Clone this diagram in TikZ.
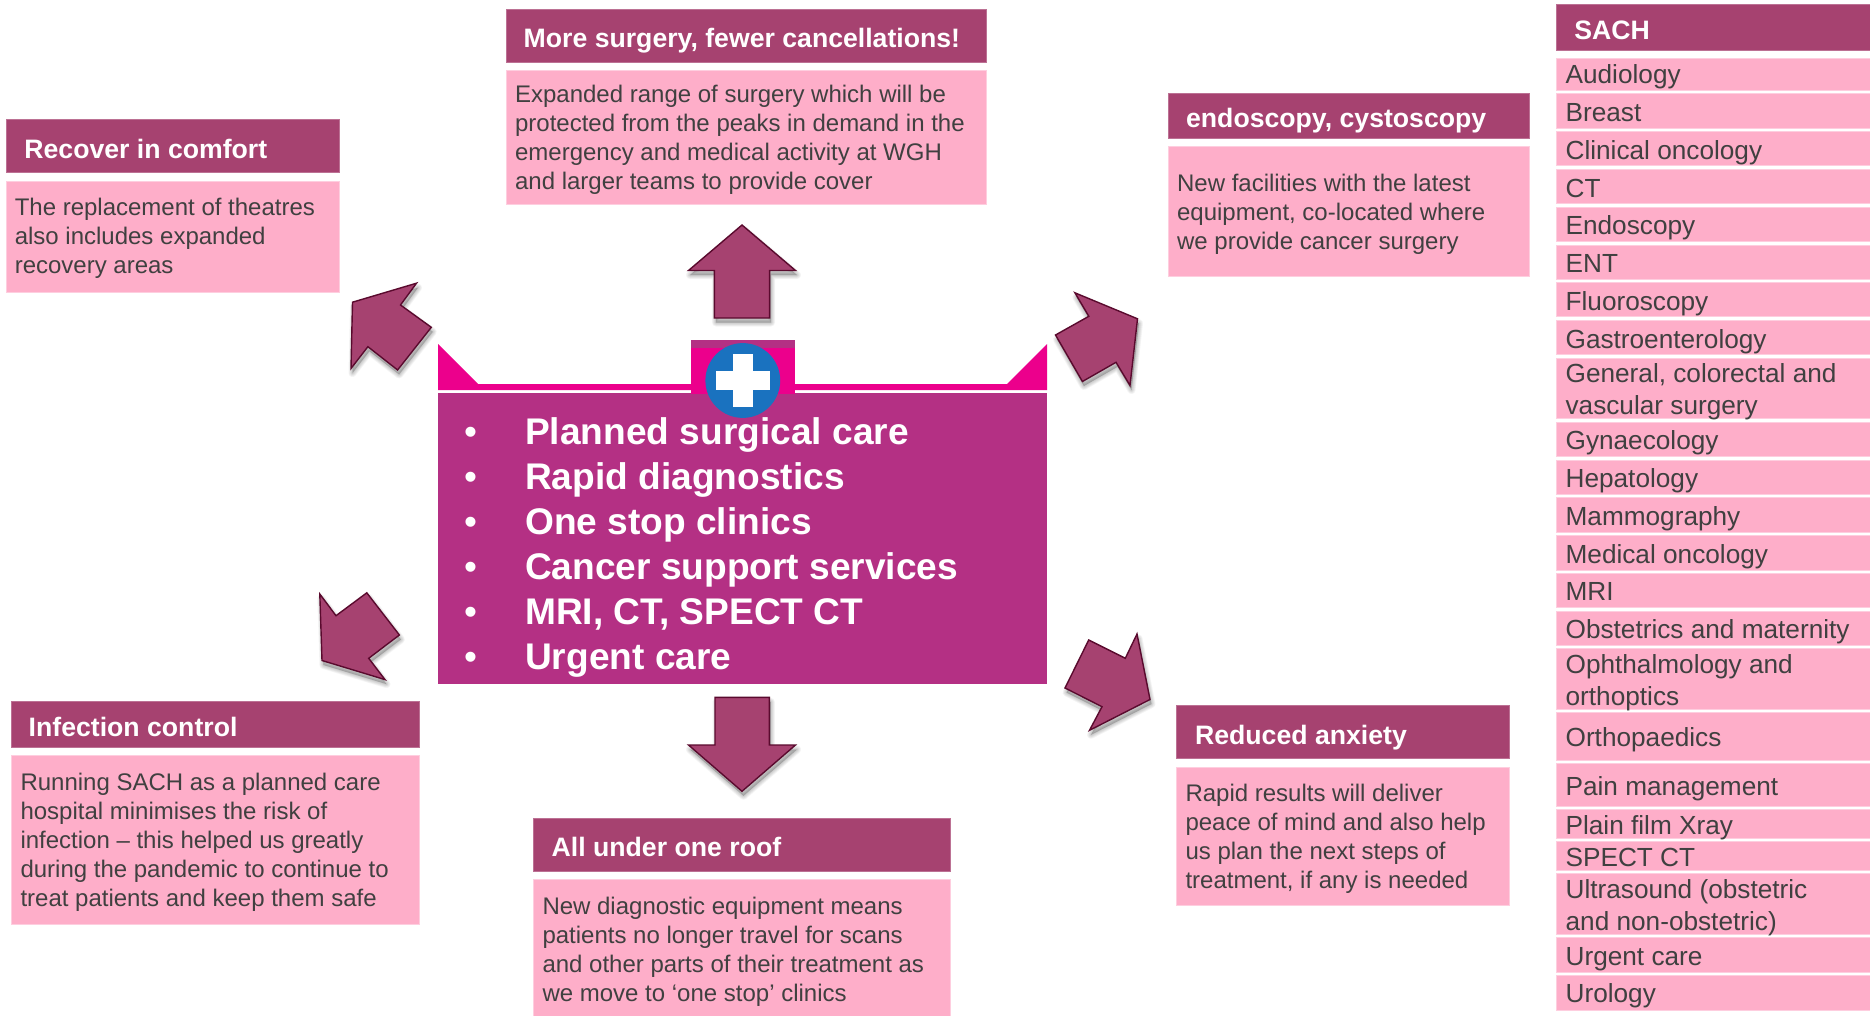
\documentclass[tikz,border=0pt]{standalone}
\usepackage{fontspec}
\setmainfont{Liberation Sans}
\definecolor{hdrc}{HTML}{A64270}
\definecolor{bodyc}{HTML}{FEAEC9}
\definecolor{mainc}{HTML}{B43084}
\definecolor{stripc}{HTML}{EC008C}
\definecolor{bluec}{HTML}{1A72BF}
\definecolor{edgec}{HTML}{5A0A2E}
\definecolor{inkc}{HTML}{404040}
\tikzset{
  hdrbox/.style={fill=hdrc,draw=hdrc!75!white,line width=0.7pt},
  bodybox/.style={fill=bodyc,draw=bodyc!60!white,line width=0.7pt},
  titletext/.style={anchor=base west,inner sep=0pt,xshift=-0.8pt,yshift=-1.2pt,text=white,font=\fontsize{26.65}{30}\selectfont\bfseries},
  bodytext/.style={anchor=north west,inner sep=0pt,xshift=-0.4pt,align=left,text=inkc,font=\fontsize{24}{29}\selectfont},
  coltext/.style={anchor=north west,inner sep=0pt,xshift=-0.6pt,yshift=-1pt,align=left,text=inkc,font=\fontsize{26.2}{32}\selectfont},
  listtext/.style={anchor=north west,inner sep=0pt,yshift=1.4pt,align=left,text=white,font=\fontsize{37.1}{45}\selectfont\bfseries},
  blockarrow/.style={fill=hdrc,draw=edgec,line width=1.4pt,line join=miter},
}
% first-line strut: fixes the height of a node's first line
\newcommand\fl{\rule{0pt}{24pt}}
\newcommand\lb{\makebox[61pt][l]{\normalfont\fontsize{37}{45}\selectfont •}}
\newcommand\rowitem[5]{%
  \path[bodybox] (1556,#2) rectangle (1870,#3);
  \node[coltext] (#1) at (1566,#4-24) {\fl #5};
}
\newcommand\softarrow[1]{%
  \begin{scope}[shift={(1.5,4.5)}]
    \foreach \w in {8,6.5,5,3.5,2,0.5}{
      \draw[black,opacity=0.04,line width=\w pt,line join=round] #1 -- cycle;
    }
    \fill[black,opacity=0.2] #1 -- cycle;
  \end{scope}
  \draw[blockarrow] #1 -- cycle;
}
\begin{document}
\begin{tikzpicture}[x=1pt,y=-1pt]
\path[use as bounding box,fill=white] (0,0) rectangle (1870,1016);

% Recover in comfort
\path[hdrbox] (6,119.5) rectangle (339.7,172.7);
\node[titletext] (t1) at (25,157.3) {Recover in comfort};
\path[bodybox] (6,181) rectangle (339.7,292);
\node[bodytext] (b1) at (15,215-24) {\fl The replacement of theatres\\also includes expanded\\recovery areas};

% More surgery
\path[hdrbox] (506,9) rectangle (986,62);
\node[titletext] (t2) at (524.3,46.7) {More surgery, fewer cancellations!};
\path[bodybox] (506,70) rectangle (986,204);
\node[bodytext] (b2) at (515.3,102.7-24) {\fl Expanded range of surgery which will be\\protected from the peaks in demand in the\\emergency and medical activity at WGH\\and larger teams to provide cover};

% endoscopy, cystoscopy
\path[hdrbox] (1168,93) rectangle (1529,138.7);
\node[titletext] (t3) at (1186.7,126.7) {endoscopy, cystoscopy};
\path[bodybox] (1168,146.7) rectangle (1529,276.3);
\node[bodytext] (b3) at (1177.3,191-24) {\fl New facilities with the latest\\equipment, co-located where\\we provide cancer surgery};

% Reduced anxiety
\path[hdrbox] (1176,705.7) rectangle (1509.7,758.7);
\node[titletext] (t4) at (1195.7,743.3) {Reduced anxiety};
\path[bodybox] (1176,767) rectangle (1509.7,905);
\node[bodytext] (b4) at (1185.7,801-24) {\fl Rapid results will deliver\\peace of mind and also help\\us plan the next steps of\\treatment, if any is needed};

% Infection control
\path[hdrbox] (11.3,701.7) rectangle (419.3,747.3);
\node[titletext] (t5) at (29.3,735.3) {Infection control};
\path[bodybox] (11.3,755.3) rectangle (419.3,924.3);
\node[bodytext] (b5) at (20.7,790-24) {\fl Running SACH as a planned care\\hospital minimises the risk of\\infection – this helped us greatly\\during the pandemic to continue to\\treat patients and keep them safe};

% All under one roof
\path[hdrbox] (533.3,818) rectangle (950.3,871.3);
\node[titletext] (t6) at (552.3,855.3) {All under one roof};
\path[bodybox] (533.3,879.3) rectangle (950.3,1016);
\node[bodytext] (b6) at (542.7,914-24) {\fl New diagnostic equipment means\\patients no longer travel for scans\\and other parts of their treatment as\\we move to ‘one stop’ clinics};

% SACH column
\path[hdrbox] (1556,4) rectangle (1870,50);
\node[titletext] (sach) at (1575,38.7) {SACH};
\rowitem{c1}{58}{90.5}{82.7}{Audiology}
\rowitem{c2}{93.5}{128}{120.7}{Breast}
\rowitem{c3}{131}{165.5}{158.3}{Clinical oncology}
\rowitem{c4}{169}{203.5}{196.7}{CT}
\rowitem{c5}{207}{241.5}{233.5}{Endoscopy}
\rowitem{c6}{245}{279}{271.7}{ENT}
\rowitem{c7}{282}{316.5}{309.5}{Fluoroscopy}
\rowitem{c8}{320}{354.7}{347.3}{Gastroenterology}
\rowitem{c9}{358}{418.7}{381.6}{General, colorectal and\\vascular surgery}
\rowitem{c10}{422}{456.7}{448.3}{Gynaecology}
\rowitem{c11}{460}{494.7}{486.7}{Hepatology}
\rowitem{c12}{497.3}{532}{524.7}{Mammography}
\rowitem{c13}{535.3}{570}{562.7}{Medical oncology}
\rowitem{c14}{573}{607.7}{599.5}{MRI}
\rowitem{c15}{611}{645.3}{637.7}{Obstetrics and maternity}
\rowitem{c16}{648.3}{709.3}{672.7}{Ophthalmology and\\orthoptics}
\rowitem{c17}{712.3}{760}{745.7}{Orthopaedics}
\rowitem{c18}{763}{806.3}{794.5}{Pain management}
\rowitem{c19}{809.7}{838.3}{833.3}{Plain film Xray}
\rowitem{c20}{841}{870.3}{865.3}{SPECT CT}
\rowitem{c21}{873.3}{934.7}{897.7}{Ultrasound (obstetric\\and non-obstetric)}
\rowitem{c22}{937.3}{972}{964.3}{Urgent care}
\rowitem{c23}{975}{1010}{1001.7}{Urology}

% Centre panel
\fill[stripc] (438,344) -- (478,384) -- (1007,384) -- (1047,344) -- (1047,390) -- (438,390) -- cycle;
\fill[mainc] (438,393) rectangle (1047,684);
\fill[stripc] (691,348) rectangle (795,394);
\fill[mainc] (691,340) rectangle (795,348);
\fill[bluec] (742.8,380.5) circle (37.4);
\fill[white] (732.6,354) rectangle (753,407.3);
\fill[white] (716,370.7) rectangle (769.6,390);
\node[listtext] (list) at (464,442.7-24) {%
  \fl\lb Planned surgical care\\
  \lb Rapid diagnostics\\
  \lb One stop clinics\\
  \lb Cancer support services\\
  \lb MRI, CT, SPECT CT\\
  \lb Urgent care};

% Block arrows
\softarrow{(742,225) -- (795.5,270.5) -- (769.6,270.5) -- (769.6,318) -- (714.4,318) -- (714.4,270.5) -- (688.5,270.5)}
\softarrow{(416.5,283.2) -- (352.5,302.2) -- (351,368.5) -- (367.9,346.7) -- (397.6,370) -- (431.3,327.3) -- (400.5,305)}
\softarrow{(1074.9,292.8) -- (1137.5,318.8) -- (1130,385.5) -- (1116,362.3) -- (1082.4,381.5) -- (1055.5,335) -- (1088.8,316.3)}
\softarrow{(1137,634) -- (1150,699.5) -- (1089.5,730.3) -- (1102,706.7) -- (1065,688) -- (1088.7,640) -- (1125.3,658.3)}
\softarrow{(319.8,594) -- (336,615.7) -- (366.8,592.8) -- (399.4,635) -- (368.7,658.3) -- (385,679.6) -- (322,660.5)}
\softarrow{(715,697.3) -- (769.3,697.3) -- (769.3,745) -- (795.5,745) -- (742,791.3) -- (688.5,745) -- (715,745)}
\end{tikzpicture}
\end{document}
